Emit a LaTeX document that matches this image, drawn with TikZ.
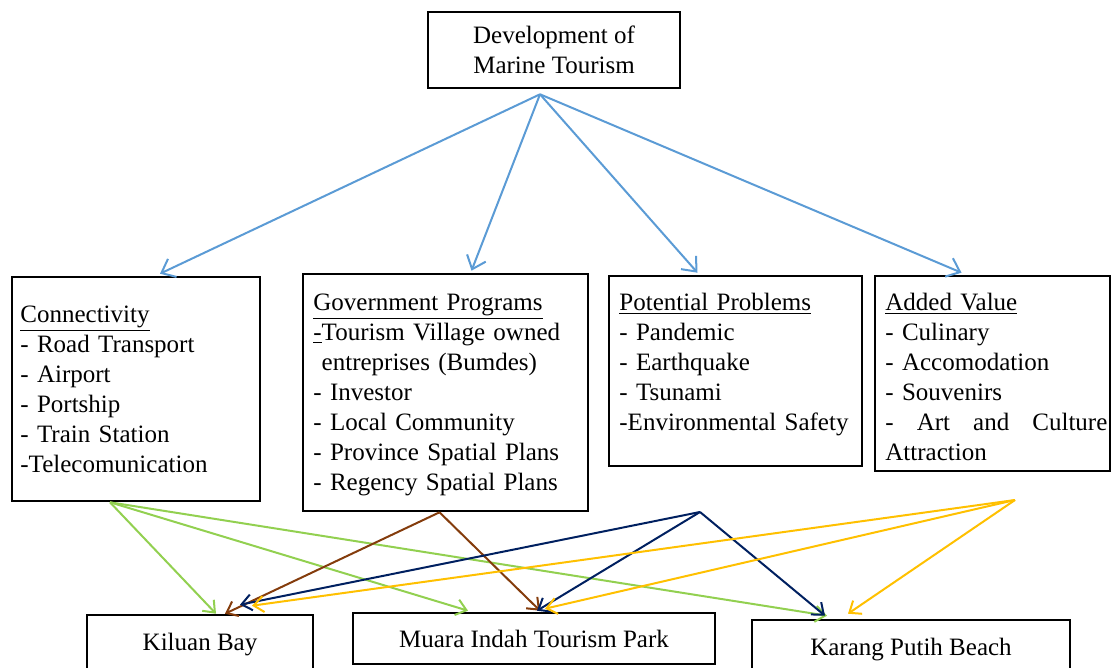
\documentclass[tikz,border=0pt]{standalone}
\usepackage{fontspec}
\setmainfont{Liberation Serif}
\usetikzlibrary{arrows.meta}
\definecolor{linkblue}{HTML}{5B9BD5}
\definecolor{linkgreen}{HTML}{92D050}
\definecolor{linkbrown}{HTML}{843C0C}
\definecolor{linknavy}{HTML}{002060}
\definecolor{linkyellow}{HTML}{FFC000}
\begin{document}
\begin{tikzpicture}[x=0.5pt, y=-0.5pt, every node/.style={font=\fontsize{12.5}{15}\selectfont}, box/.style={draw, line width=1.3pt, inner sep=0pt}, list/.style={anchor=base west, align=left, inner sep=0pt}, link/.style={line width=1pt, -{Straight Barb[length=5pt,width=8pt]}}]
	\useasboundingbox (0,0) rectangle (1112,668);
	% boxes
	\node[box, align=center, minimum width=126pt, minimum height=38pt] (dev) at (554,50) {Development of\\Marine Tourism};
	\node[box, minimum width=124pt, minimum height=112pt] (conn) at (136,389) {};
	\node[box, minimum width=142.5pt, minimum height=118.5pt] (gov) at (445.5,392.5) {};
	\node[box, minimum width=126.5pt, minimum height=95pt] (prob) at (735.5,371) {};
	\node[box, minimum width=117.5pt, minimum height=97.5pt] (add) at (992.5,373.5) {};
	\node[list, text width=115pt] (conn-t) at (20,322) {\underline{Connectivity}\\- Road Transport\\- Airport\\- Portship\\- Train Station\\-Telecomunication};
	\node[list, text width=136pt] (gov-t) at (313,310) {\underline{Government Programs}\\\underline{-}Tourism Village owned\\\phantom{-}entreprises (Bumdes)\\- Investor\\- Local Community\\- Province Spatial Plans\\- Regency Spatial Plans};
	\node[list, text width=119pt] (prob-t) at (619,310) {\underline{Potential Problems}\\- Pandemic\\- Earthquake\\- Tsunami\\-Environmental Safety};
	\node[list, text width=111pt] (add-t) at (885,310) {\underline{Added Value}\\- Culinary\\- Accomodation\\- Souvenirs\\-\hfill Art\hfill and\hfill Culture\\Attraction};
	\node[box, minimum width=113pt, minimum height=30pt] (kb) at (200,645) {Kiluan Bay};
	\node[box, minimum width=181pt, minimum height=25.5pt] (mp) at (534,638.5) {Muara Indah Tourism Park};
	\node[box, minimum width=159pt, minimum height=30pt] (kp) at (911,650) {Karang Putih Beach};
	% link ends
	\coordinate (dev-out) at ([xshift=-7pt,yshift=-2.5pt]dev.south);
	\coordinate (prob-out) at (700,512);
	\coordinate (add-out) at (1015,500);
	% blue
	\draw[link, linkblue, -{Straight Barb[length=6pt,width=10pt]}] (dev-out) -- ([xshift=12pt,yshift=1pt]conn.north);
	\draw[link, linkblue, -{Straight Barb[length=6pt,width=10pt]}] (dev-out) -- ([xshift=13pt,yshift=1pt]gov.north);
	\draw[link, linkblue, -{Straight Barb[length=6pt,width=10pt]}] (dev-out) -- ([xshift=-19pt,yshift=1pt]prob.north);
	\draw[link, linkblue, -{Straight Barb[length=6pt,width=10pt]}] (dev-out) -- ([xshift=-15.5pt,yshift=1pt]add.north);
	% green
	\draw[link, linkgreen] ([xshift=-13pt]conn.south) -- ([xshift=8pt]kb.north);
	\draw[link, linkgreen] ([xshift=-13pt]conn.south) -- ([xshift=-33pt,yshift=0.5pt]mp.north);
	\draw[link, linkgreen] ([xshift=-13pt]conn.south) -- ([xshift=-42pt,yshift=1.5pt]kp.north);
	% brown
	\draw[link, linkbrown] ([xshift=-3pt]gov.south) -- ([xshift=12.5pt]kb.north);
	\draw[link, linkbrown] ([xshift=-3pt]gov.south) -- ([xshift=3pt,yshift=0.5pt]mp.north);
	% navy
	\draw[link, linknavy] (prob-out) -- ([xshift=20pt,yshift=4.5pt]kb.north);
	\draw[link, linknavy] (prob-out) -- ([xshift=1.5pt,yshift=0.5pt]mp.north);
	\draw[link, linknavy] (prob-out) -- ([xshift=-43pt,yshift=1.5pt]kp.north);
	% yellow
	\draw[link, linkyellow] (add-out) -- ([xshift=26pt,yshift=4pt]kb.north);
	\draw[link, linkyellow] (add-out) -- ([xshift=5.5pt,yshift=1.5pt]mp.north);
	\draw[link, linkyellow] (add-out) -- ([xshift=-31.5pt,yshift=2.5pt]kp.north);
\end{tikzpicture}
\end{document}
